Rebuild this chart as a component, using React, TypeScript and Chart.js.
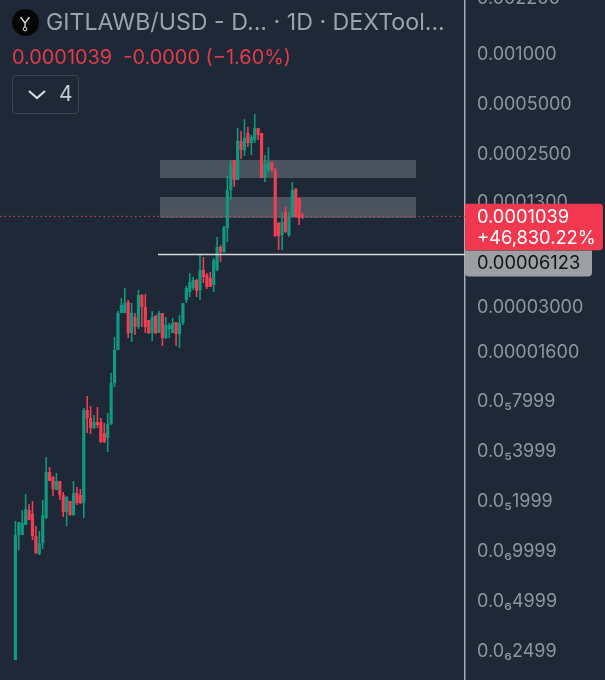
import React, { useEffect, useRef } from "react";
import { Chart, registerables } from "chart.js";

Chart.register(...registerables);

// Prices in millionths of a USD (1 = 0.000001)
const UNIT = 1e-6;
const opens = [0.2215,1.253,1.253,1.44,1.772,1.677,1.236,0.963,1.122,1.586,3.001,2.801,2.339,2.649,2.182,1.724,2.008,1.654,2.244,2.182,1.953,7.09,6.346,5.524,6.003,6.003,5.155,4.81,5.839,10.31,16.29,27.21,27.21,31.69,20.62,25.74,22.41,34.91,29.57,24.69,20.62,26.1,20.62,27.21,19.24,21.79,20.62,24.01,20.33,23.68,32.58,36.4,38.48,42.99,37.42,49.38,46.07,44.19,40.11,49.38,67.93,63.38,88.39,149.7,226.9,171.9,295.3,260.6,329.9,287.2,299.4,353.6,329.9,176.8,197.5,220.7,197.5,94.74,80.21,110.3,80.21,103.0,151.8,134.0,105.6];
const highs = [1.522,1.501,1.772,2.212,1.926,2.008,1.42,1.325,2.036,3.696,3.217,2.84,2.96,2.649,2.275,2.152,2.008,2.649,2.438,2.371,7.289,8.61,7.495,6.615,7.392,6.346,5.921,6.802,11.85,19.51,27.97,33.49,38.48,32.58,31.25,27.21,37.42,35.4,35.4,24.69,27.97,26.46,27.97,27.21,25.74,23.68,25.38,24.01,26.46,31.25,39.56,47.37,44.81,43.59,60.79,59.13,47.37,48.03,58.31,78.03,69.83,90.88,181.8,226.9,226.9,353.6,339.2,400.6,358.5,320.9,429.3,353.6,329.9,243.2,271.7,220.7,203.1,96.05,110.3,118.3,110.3,167.3,153.9,134.0,108.8];
const lows = [0.2215,1.018,1.253,1.44,1.543,1.169,0.963,0.95,1.032,1.565,2.649,2.152,2.339,2.036,1.608,1.42,1.631,1.631,1.9,1.926,1.586,5.155,5.084,5.449,5.524,4.487,4.487,3.961,5.759,9.756,16.29,27.21,27.21,19.24,18.2,20.05,21.79,22.41,20.62,20.33,18.45,20.33,20.62,17.22,18.97,19.24,20.62,17.22,16.75,23.03,31.25,33.96,37.42,33.96,32.58,41.24,37.94,39.01,36.4,48.7,55.17,62.5,72.8,130.3,156.1,171.9,230.1,239.8,271.7,243.2,287.2,299.4,176.8,167.3,189.5,192.1,78.03,65.15,65.15,82.48,78.03,103.0,103.0,92.14,100.1];
const closes = [1.253,1.501,1.48,1.797,1.543,1.236,0.977,1.122,1.654,3.001,2.649,2.371,2.649,2.182,1.724,2.123,1.654,2.244,1.953,1.953,7.09,6.346,5.524,6.003,5.759,4.55,4.55,5.839,10.31,16.29,27.21,30.4,31.25,20.62,27.21,22.41,34.91,29.57,22.41,20.62,25.74,20.62,27.21,19.24,23.03,23.03,23.68,20.33,23.68,31.25,38.48,41.81,42.99,36.91,49.38,44.81,39.01,39.01,56.72,67.93,63.38,89.63,149.7,211.7,171.9,295.3,260.6,307.8,287.2,312.1,353.6,320.9,176.8,211.7,217.7,197.5,79.11,79.11,96.05,83.63,103.0,149.7,103.0,101.5,103.9];

const leadingSlots = 4;
const totalSlots = 136;
const categories = Array.from({ length: totalSlots }, (_, i) => `D${i - leadingSlots + 1}`);

// Where each label sits on the price axis
const tickValues = [2140, 973, 486, 243, 126.5, 29.2, 15.8, 7.999, 3.999, 1.999, 0.9999, 0.4999, 0.2499];
const tickLabels = ["0.002200", "0.001000", "0.0005000", "0.0002500", "0.0001300", "0.00003000", "0.00001600", "0.0₅7999", "0.0₅3999", "0.0₅1999", "0.0₆9999", "0.0₆4999", "0.0₆2499"];

const axisMax = 2085;
const axisMin = 0.168;

const upperZone = [176.8, 226.9];
const lowerZone = [101.5, 135.9];
const zoneSlots = [46.3, 121.2];
const supportLevel = 61.23;
const supportStartSlot = 45.7;
const lastPrice = 103.9;

const FONT = "Inter, 'Noto Sans', sans-serif";
const UP = "#0f9a80";
const DOWN = "#ee3f53";
const BG = "#1e2836";

function pad<T>(values: T[]): (T | null)[] {
  const out: (T | null)[] = new Array(totalSlots).fill(null);
  values.forEach((v, i) => { out[i + leadingSlots] = v; });
  return out;
}

const candleColors = opens.map((o, i) => (closes[i] >= o ? UP : DOWN));

const overlay = {
  id: "overlay",
  beforeDatasetsDraw(chart: any) {
    const { ctx, scales } = chart;
    const x = scales.x, y = scales.y;
    ctx.save();
    ctx.fillStyle = "rgba(255,255,255,0.2)";
    [upperZone, lowerZone].forEach(([lo, hi]) => {
      const x0 = x.getPixelForValue(zoneSlots[0]);
      const x1 = x.getPixelForValue(zoneSlots[1]);
      const y0 = y.getPixelForValue(hi * UNIT);
      const y1 = y.getPixelForValue(lo * UNIT);
      ctx.fillRect(x0, y0, x1 - x0, y1 - y0);
    });
    ctx.restore();
  },
  afterDatasetsDraw(chart: any) {
    const { ctx, scales, chartArea } = chart;
    const x = scales.x, y = scales.y;
    ctx.save();
    const py = y.getPixelForValue(lastPrice * UNIT);
    ctx.strokeStyle = "#e4495c";
    ctx.lineWidth = 1;
    ctx.setLineDash([1.5, 3]);
    ctx.beginPath();
    ctx.moveTo(chartArea.left, py);
    ctx.lineTo(chartArea.right, py);
    ctx.stroke();
    ctx.setLineDash([]);
    const sy = y.getPixelForValue(supportLevel * UNIT);
    ctx.strokeStyle = "#d5d8dc";
    ctx.lineWidth = 1.3;
    ctx.beginPath();
    ctx.moveTo(x.getPixelForValue(supportStartSlot), sy);
    ctx.lineTo(chartArea.right, sy);
    ctx.stroke();
    ctx.restore();
  },
  afterDraw(chart: any) {
    const { ctx, scales, chartArea } = chart;
    const y = scales.y;
    const py = y.getPixelForValue(lastPrice * UNIT);
    const sy = y.getPixelForValue(supportLevel * UNIT);
    const left = chartArea.right;
    ctx.save();
    ctx.fillStyle = "#9d9fa3";
    ctx.beginPath();
    ctx.roundRect(left, sy - 4, 127, 26, [0, 0, 4, 4]);
    ctx.fill();
    ctx.fillStyle = "#f2384e";
    ctx.beginPath();
    ctx.roundRect(left, py - 12.5, 138, 46.5, [0, 4, 4, 0]);
    ctx.fill();
    ctx.textBaseline = "middle";
    ctx.textAlign = "left";
    ctx.font = `18.3px ${FONT}`;
    ctx.fillStyle = "#ffffff";
    ctx.fillText("0.0001039", left + 12, py + 1);
    ctx.fillText("+46,830.22%", left + 12, py + 22.5);
    ctx.fillStyle = "#111418";
    ctx.fillText("0.00006123", left + 12, sy + 9);
    ctx.restore();
  },
};

export default function App() {
  const ref = useRef<HTMLCanvasElement>(null);
  useEffect(() => {
    document.body.style.margin = "0";
    document.body.style.background = BG;
    const chart = new Chart(ref.current!, {
      type: "bar",
      data: {
        labels: categories,
        datasets: [
          {
            label: "Range",
            data: pad(lows.map((l, i) => [l * UNIT, highs[i] * UNIT])) as any,
            backgroundColor: pad(candleColors) as any,
            barThickness: 1.6,
            grouped: false,
            inflateAmount: 0,
          },
          {
            label: "Open/Close",
            data: pad(opens.map((o, i) => [o * UNIT, closes[i] * UNIT])) as any,
            backgroundColor: pad(candleColors) as any,
            barThickness: 3.2,
            grouped: false,
            inflateAmount: 0,
          },
        ],
      },
      options: {
        responsive: false,
        animation: false,
        layout: { padding: 0 },
        plugins: { legend: { display: false }, tooltip: { enabled: false } },
        scales: {
          x: { display: false, grid: { display: false } },
          y: {
            type: "logarithmic",
            position: "right",
            min: axisMin * UNIT,
            max: axisMax * UNIT,
            grid: { display: false, drawTicks: false },
            border: { display: true, color: "#a3adbc", width: 1.5 },
            afterBuildTicks(scale: any) {
              scale.ticks = tickValues.map((v) => ({ value: v * UNIT }));
            },
            afterFit(scale: any) {
              scale.width = 140;
              scale.paddingTop = 0;
              scale.paddingBottom = 0;
              scale.paddingLeft = 0;
              scale.paddingRight = 0;
            },
            ticks: {
              autoSkip: false,
              maxRotation: 0,
              padding: 12,
              color: "#8d95a3",
              font: { family: FONT, size: 18 },
              callback(_v: any, i: number) {
                return tickLabels[i];
              },
            },
          },
        },
      },
      plugins: [overlay],
    } as any);
    return () => chart.destroy();
  }, []);

  return (
    <div style={{ position: "absolute", left: 0, top: 0, width: 605, height: 680, background: BG, overflow: "hidden", fontFamily: FONT }}>
      <canvas ref={ref} width={605} height={680} style={{ display: "block", width: 605, height: 680 }} />
      <svg width="27" height="27" viewBox="0 0 27 27" style={{ position: "absolute", left: 12, top: 9 }}>
        <circle cx="13.5" cy="13.5" r="13.5" fill="#060606" />
        <path d="M8.5 8 L13 14 L17.5 8 M13 14 V18" stroke="#d8d8d8" strokeWidth="1.4" fill="none" />
        <circle cx="13" cy="20" r="1.8" stroke="#d8d8d8" strokeWidth="1" fill="none" />
      </svg>
      <div style={{ position: "absolute", left: 46, top: 7, fontSize: 23.2, lineHeight: "30px", color: "#9ba2ae", whiteSpace: "nowrap" }}>
        GITLAWB/USD - D... · 1D · DEXTool...
      </div>
      <div style={{ position: "absolute", left: 12, top: 44, fontSize: 19.9, lineHeight: "26px", color: "#e23c4c", whiteSpace: "pre" }}>
        0.0001039  -0.0000 (−1.60%)
      </div>
      <div style={{ position: "absolute", left: 12, top: 75, width: 65, height: 37, border: "1px solid #3a4452", borderRadius: 4 }}>
        <svg width="20" height="12" viewBox="0 0 20 12" style={{ position: "absolute", left: 14, top: 13 }}>
          <path d="M2 2 L10 9 L18 2" stroke="#d5d8dd" strokeWidth="2.2" fill="none" />
        </svg>
        <span style={{ position: "absolute", left: 46, top: 5, fontSize: 21, lineHeight: "26px", color: "#c4c8cf" }}>4</span>
      </div>
    </div>
  );
}
